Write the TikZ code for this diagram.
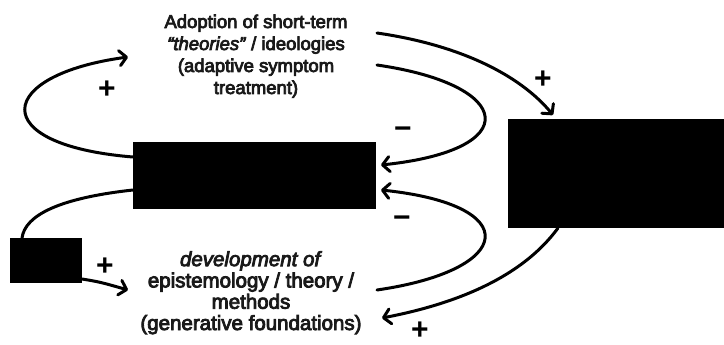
\documentclass[tikz,border=0pt]{standalone}
\usepackage{fontspec}
\setmainfont{Liberation Sans}
\newfontfamily\lblfont[FakeBold=4]{Liberation Sans}
\usetikzlibrary{arrows.meta}
\tikzset{
  blackbox/.style={fill=black, draw=none},
  link/.style={line width=3pt, line cap=round, black},
  arr/.style={link, -{Straight Barb[length=7pt,width=15pt,line cap=round,line join=round]}},
  lbl/.style={text=black!90, align=center, inner sep=0pt},
  toplbl/.style={lbl, font=\lblfont\fontsize{18.5}{22}\selectfont},
  botlbl/.style={lbl, font=\lblfont\fontsize{20.5}{21.3}\selectfont},
  sign/.style={font=\fontsize{30}{30}\selectfont\bfseries, inner sep=0pt}
}
\begin{document}
\begin{tikzpicture}[x=1pt,y=-1pt]
\useasboundingbox (0,0) rectangle (724,345);
% boxes
\path[blackbox] (133,142) rectangle (376,209);
\node[inner sep=0pt, minimum width=243pt, minimum height=67pt] (mid) at (254.5,175.5) {};
\path[blackbox] (508,119) rectangle (724,228);
\node[inner sep=0pt, minimum width=216pt, minimum height=109pt] (right) at (616,173.5) {};
\path[blackbox] (10,238) rectangle (82,283);
\node[inner sep=0pt, minimum width=72pt, minimum height=45pt] (small) at (46,260.5) {};
% texts (anchor base = baseline of last line)
\node[toplbl, anchor=base] (top) at (256,94) {Adoption of short-term\\\textit{“theories”} / ideologies\\(adaptive symptom\\treatment)};
\node[botlbl, anchor=base] (bot) at (251,330) {\textit{development of}\\epistemology / theory /\\methods\\(generative foundations)};
% connector end points
\coordinate (a1) at (133,157);
\coordinate (a2) at (128,57);
\coordinate (b1) at (377,33);
\coordinate (b2) at (553,115);
\coordinate (c1) at (377,65);
\coordinate (c2) at (381,165);
\coordinate (d1) at (377,290);
\coordinate (d2) at (381,190);
\coordinate (e1) at (558,228);
\coordinate (e2) at (382,318);
\coordinate (f1) at (133,190);
\coordinate (f2) at (22,238);
\coordinate (g1) at (82,279);
\coordinate (g2) at (128,290);
% connectors
\draw[arr] (a1) .. controls (-15,145) and (-5,75) .. (a2);
\draw[arr] (b1) .. controls (460,45) and (520,75) .. (b2);
\draw[arr] (c1) .. controls (515,85) and (525,150) .. (c2);
\draw[arr] (d1) .. controls (515,270) and (525,205) .. (d2);
\draw[arr] (e1) .. controls (520,280) and (450,305) .. (e2);
\draw[link] (f1) .. controls (60,198) and (25,215) .. (f2);
\draw[arr] (g1) .. controls (100,282) .. (g2);
% signs
\node[sign] (p1) at (107,90) {+};
\node[sign] (p2) at (543,80) {+};
\node[sign] (m1) at (403,133) {−};
\node[sign] (m2) at (402,222) {−};
\node[sign] (p3) at (420,331) {+};
\node[sign] (p4) at (105,267) {+};
\end{tikzpicture}
\end{document}
